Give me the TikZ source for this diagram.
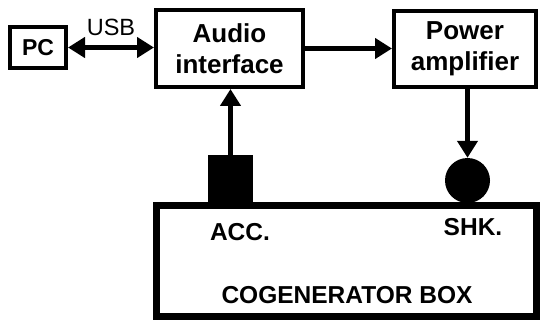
\documentclass[tikz,border=0pt]{standalone}
\usepackage{fontspec}
\setmainfont{Liberation Sans}
\usetikzlibrary{arrows.meta}

\begin{document}
\begin{tikzpicture}[x=1pt,y=-1pt,
		blk/.style={draw, line width=4pt, font=\fontsize{26}{31}\selectfont\bfseries, align=center, inner sep=0pt},
		lbl/.style={font=\fontsize{24.5}{28}\selectfont\bfseries, inner sep=0pt},
		sig/.style={line width=5pt, -{Triangle[length=17pt,width=20pt]}}]
		\useasboundingbox (0,0) rectangle (541,323);
		% blocks on top
		\node [blk, minimum width=56pt, minimum height=41pt, font=\fontsize{23}{27}\selectfont\bfseries] (pc) at (38,47.5) {PC};
		\node [blk, minimum width=147pt, minimum height=77pt] (audio) at (229.5,48.5) {Audio\\interface};
		\node [blk, minimum width=142pt, minimum height=76pt] (power) at (465,49) {Power\\amplifier};
		% the box with its two sensors
		\node [draw, line width=7pt, minimum width=380pt, minimum height=111pt] (cogen) at (346.5,261) {};
		\node [fill=black, minimum width=45pt, minimum height=47pt, inner sep=0pt] (acc) at (230.5,178.5) {};
		\node [circle, fill=black, minimum size=45pt, inner sep=0pt] (shk) at (467.5,180.5) {};
		\node [lbl] (acclbl) at (240,232) {ACC.};
		\node [lbl] (shklbl) at (473,227) {SHK.};
		\node [lbl, font=\fontsize{24.5}{28}\selectfont\bfseries] (cogenlbl) at (347,295) {COGENERATOR BOX};
		% connections
		\draw [sig, {Triangle[length=17pt,width=20pt]}-{Triangle[length=17pt,width=20pt]}]
			(pc.east) -- (pc.east -| audio.west)
			node [midway, above=9pt, font=\fontsize{23.5}{27}\selectfont, inner sep=0pt] (usb) {USB};
		\draw [sig] (audio.east) -- (audio.east -| power.west);
		\draw [sig] (shk.north |- power.south) -- (shk.north);
		\draw [sig] (acc.north) -- (acc.north |- audio.south);
	\end{tikzpicture}
\end{document}
